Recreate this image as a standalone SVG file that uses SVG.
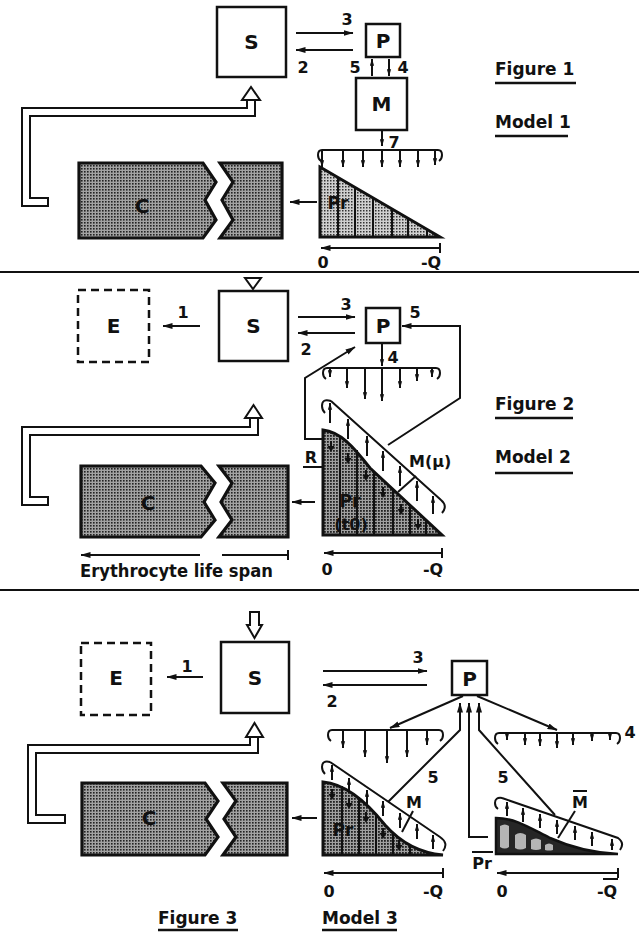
<svg xmlns="http://www.w3.org/2000/svg" xmlns:xlink="http://www.w3.org/1999/xlink" width="639" height="932" viewBox="0 0 639 932">
<style>
.ln{stroke:#111;stroke-width:2;fill:none}
.th{stroke:#111;stroke-width:2.5;fill:none}
.box{fill:#fff;stroke:#111;stroke-width:2.5}
.dash{fill:#fff;stroke:#111;stroke-width:2.5;stroke-dasharray:8,5}
.t{font-family:"DejaVu Sans","Liberation Sans",sans-serif;font-weight:bold;fill:#111}
.big{font-size:20px}
.num{font-size:16px}
.lab{font-size:17px}
.mid{text-anchor:middle}
.hol{stroke:#111;stroke-width:10;fill:none}
.holw{stroke:#fff;stroke-width:6;fill:none}
.harr{fill:#fff;stroke:#111;stroke-width:2}
.blk{fill:url(#pc);stroke:#111;stroke-width:3.2;stroke-linejoin:miter}
.pr{stroke:#111;stroke-width:3}
</style>
<defs>
<pattern id="pc" width="3" height="3" patternUnits="userSpaceOnUse"><rect width="3" height="3" fill="#a2a2a2"/><rect width="1.6" height="1.6" fill="#222"/></pattern>
<pattern id="pl" width="3" height="3" patternUnits="userSpaceOnUse"><rect width="3" height="3" fill="#cfcfcf"/><rect width="1.5" height="1.5" fill="#333"/></pattern>
<pattern id="pd" width="3" height="3" patternUnits="userSpaceOnUse"><rect width="3" height="3" fill="#a0a0a0"/><rect width="1.8" height="1.8" fill="#222"/></pattern>
<marker id="a" viewBox="0 0 10 6" refX="9.5" refY="3" markerWidth="10" markerHeight="6" orient="auto" markerUnits="userSpaceOnUse"><path d="M0,0 L10,3 L0,6 Z" fill="#111"/></marker>
<marker id="s" viewBox="0 0 10 6" refX="9.5" refY="3" markerWidth="7" markerHeight="5" orient="auto" markerUnits="userSpaceOnUse"><path d="M0,0 L10,3 L0,6 Z" fill="#111"/></marker>
<g id="drop"><path d="M0,-8 V-2" stroke="#111" stroke-width="2"/><path d="M-3.5,-3 L3.5,-3 L0,3 Z" fill="#111"/></g>
</defs>

<g id="separators">
<line x1="0" y1="272" x2="639" y2="272" stroke="#111" stroke-width="1.8"/>
<line x1="0" y1="590" x2="639" y2="590" stroke="#111" stroke-width="1.8"/>
</g>

<!-- ================= FIGURE 1 ================= -->
<g id="f1-S"><rect class="box" x="217" y="7" width="69" height="70"/><text class="t big mid" x="251.5" y="49">S</text></g>
<g id="f1-P"><rect class="box" x="366" y="24" width="34" height="33"/><text class="t big mid" x="383" y="48">P</text></g>
<g id="f1-M"><rect class="box" x="356" y="78" width="51" height="52"/><text class="t big mid" x="381.5" y="111">M</text></g>
<g id="f1-C">
<path class="blk" d="M79,163 H203 L216,182 L205,200 L216,220 L203,238 H79 Z"/>
<path class="blk" d="M220,163 H282 V238 H220 L233,220 L222,200 L233,182 Z"/>
<text class="t big mid" x="142" y="213" fill="#1a1a1a">C</text>
</g>
<g id="f1-Pr">
<path d="M320,167 L440,237 H320 Z" fill="url(#pl)"/>
<g class="ln" stroke-width="1.8">
<line x1="338" y1="177" x2="338" y2="237"/><line x1="355" y1="187" x2="355" y2="237"/><line x1="373" y1="198" x2="373" y2="237"/>
<line x1="392" y1="209" x2="392" y2="237"/><line x1="408" y1="218" x2="408" y2="237"/><line x1="427" y1="229" x2="427" y2="237"/>
</g>
<path d="M320,167 L440,237 H320 Z" fill="none" class="pr"/>
<text class="t lab mid" x="338" y="209" fill="#1a1a1a">Pr</text>
</g>
<g id="f1-labels">
<text class="t lab" x="495" y="75">Figure 1</text><line class="th" x1="495" y1="83" x2="576" y2="83"/>
<text class="t lab" x="495" y="128">Model 1</text><line class="th" x1="495" y1="136" x2="568" y2="136"/>
<text class="t num mid" x="323" y="268">0</text>
<text class="t num mid" x="431" y="268">-Q</text>
</g>
<g id="f1-connectors">
<path class="hol" d="M49,202 H26 V112 H251 V100"/>
<path class="holw" d="M47,202 H26 V112 H251 V98"/>
<path class="harr" d="M242,100 H260 L251,87 Z"/>
<line class="ln" x1="296" y1="33" x2="353" y2="33" marker-end="url(#a)"/>
<text class="t num mid" x="347" y="25">3</text>
<line class="ln" x1="353" y1="50" x2="296" y2="50" marker-end="url(#a)"/>
<text class="t num mid" x="303" y="73">2</text>
<line class="ln" x1="372" y1="76" x2="372" y2="59" marker-end="url(#s)"/>
<line class="ln" x1="389" y1="59" x2="389" y2="76" marker-end="url(#s)"/>
<text class="t num mid" x="355" y="73">5</text>
<text class="t num mid" x="403" y="73">4</text>
<line class="ln" x1="382" y1="130" x2="382" y2="146" marker-end="url(#s)"/>
<text class="t num mid" x="394" y="148">7</text>
<path class="ln" d="M322,150 H438 M322,150 Q318,150 318,155 Q318,159 321,161 M438,150 Q442,150 442,155 Q442,159 439,161"/>
<g class="ln" stroke-width="1.8">
<line x1="322" y1="150" x2="322" y2="167" marker-end="url(#s)"/><line x1="343" y1="150" x2="343" y2="167" marker-end="url(#s)"/>
<line x1="363" y1="150" x2="363" y2="167" marker-end="url(#s)"/><line x1="382" y1="150" x2="382" y2="167" marker-end="url(#s)"/>
<line x1="400" y1="150" x2="400" y2="167" marker-end="url(#s)"/><line x1="418" y1="150" x2="418" y2="167" marker-end="url(#s)"/>
<line x1="435" y1="150" x2="435" y2="165" marker-end="url(#s)"/>
</g>
<line class="ln" x1="317" y1="202" x2="290" y2="202" marker-end="url(#a)"/>
<line class="ln" x1="440" y1="248" x2="321" y2="248" marker-end="url(#a)"/>
<line class="ln" x1="440" y1="243" x2="440" y2="253"/>
</g>

<!-- ================= FIGURE 2 ================= -->
<g id="f2-S"><path class="harr" d="M245,278 H261 L253,289 Z"/><rect class="box" x="219" y="291" width="69" height="70"/><text class="t big mid" x="253.5" y="333">S</text></g>
<g id="f2-E"><rect class="dash" x="78" y="290" width="71" height="72"/><text class="t big mid" x="113.5" y="333">E</text></g>
<g id="f2-P"><rect class="box" x="366" y="308" width="34" height="35"/><text class="t big mid" x="383" y="333">P</text></g>
<g id="f2-C">
<path class="blk" d="M81,466 H201 L215,483 L204,502 L215,520 L201,537 H81 Z"/>
<path class="blk" d="M219,466 H288 V537 H219 L232,520 L221,502 L232,483 Z"/>
<text class="t big mid" x="148" y="510" fill="#1a1a1a">C</text>
</g>
<g id="f2-Pr">
<path d="M323,430 C340,432 352,445 370,468 L442,535 H323 Z" fill="url(#pd)"/>
<g class="ln" stroke-width="1.8">
<line x1="340" y1="436" x2="340" y2="535"/><line x1="357" y1="450" x2="357" y2="535"/><line x1="374" y1="472" x2="374" y2="535"/>
<line x1="393" y1="489" x2="393" y2="535"/><line x1="410" y1="505" x2="410" y2="535"/><line x1="426" y1="520" x2="426" y2="535"/>
</g>
<use xlink:href="#drop" x="331" y="449"/><use xlink:href="#drop" x="348" y="461"/><use xlink:href="#drop" x="366" y="478"/>
<use xlink:href="#drop" x="383" y="495"/><use xlink:href="#drop" x="401" y="512"/><use xlink:href="#drop" x="418" y="527"/>
<path d="M323,430 C340,432 352,445 370,468 L442,535 H323 Z" fill="none" class="pr"/>
<text class="t lab mid" x="350" y="507" fill="#1a1a1a">Pr</text>
<text class="t num mid" x="351" y="530" fill="#1a1a1a">(t0)</text>
</g>
<g id="f2-M">
<path class="ln" d="M331,401 L441,500 M331,401 Q322,398 322,406 Q322,410 325,413 M441,500 Q448,506 442,513"/>
<g class="ln" stroke-width="1.8">
<line x1="330" y1="423" x2="330" y2="403" marker-end="url(#s)"/><line x1="348" y1="439" x2="348" y2="419" marker-end="url(#s)"/>
<line x1="367" y1="456" x2="367" y2="436" marker-end="url(#s)"/><line x1="383" y1="471" x2="383" y2="451" marker-end="url(#s)"/>
<line x1="400" y1="486" x2="400" y2="466" marker-end="url(#s)"/><line x1="417" y1="501" x2="417" y2="481" marker-end="url(#s)"/>
<line x1="433" y1="514" x2="433" y2="496" marker-end="url(#s)"/>
</g>
<text class="t num" x="409" y="467">M(μ)</text>
<line class="ln" x1="398" y1="492" x2="416" y2="476"/>
</g>
<g id="f2-labels">
<text class="t lab" x="495" y="410">Figure 2</text><line class="th" x1="495" y1="418" x2="573" y2="418"/>
<text class="t lab" x="495" y="463">Model 2</text><line class="th" x1="495" y1="473" x2="573" y2="473"/>
<text class="t num mid" x="311" y="463">R</text>
<text class="t num mid" x="327" y="575">0</text>
<text class="t num mid" x="433" y="575">-Q</text>
<text class="t lab" x="80" y="577" textLength="193" lengthAdjust="spacingAndGlyphs">Erythrocyte life span</text>
</g>
<g id="f2-connectors">
<path class="hol" d="M49,501 H26 V431 H254 V418"/>
<path class="holw" d="M47,501 H26 V431 H254 V416"/>
<path class="harr" d="M245,418 H262 L253.5,405 Z"/>
<line class="ln" x1="200" y1="326" x2="163" y2="326" marker-end="url(#a)"/>
<text class="t num mid" x="183" y="318">1</text>
<line class="ln" x1="298" y1="317" x2="355" y2="317" marker-end="url(#a)"/>
<text class="t num mid" x="346" y="310">3</text>
<line class="ln" x1="355" y1="333" x2="298" y2="333" marker-end="url(#a)"/>
<text class="t num mid" x="306" y="355">2</text>
<path class="ln" d="M388,445 L460,398 V326 H402" marker-end="url(#a)"/>
<text class="t num mid" x="415" y="318">5</text>
<path class="ln" d="M323,439 H305 V378 L355,347" marker-end="url(#a)"/>
<line class="ln" x1="303" y1="467" x2="323" y2="467"/>
<line class="ln" x1="382" y1="343" x2="382" y2="366" marker-end="url(#s)"/>
<text class="t num mid" x="393" y="363">4</text>
<path class="ln" d="M327,368 H436 M327,368 Q323,368 323,373 Q323,377 326,379 M436,368 Q440,368 440,373 Q440,377 437,379"/>
<g class="ln" stroke-width="1.8">
<line x1="330" y1="368" x2="330" y2="377" marker-end="url(#s)"/><line x1="347" y1="368" x2="347" y2="388" marker-end="url(#s)"/>
<line x1="365" y1="368" x2="365" y2="399" marker-end="url(#s)"/><line x1="382" y1="368" x2="382" y2="401" marker-end="url(#s)"/>
<line x1="400" y1="368" x2="400" y2="388" marker-end="url(#s)"/><line x1="417" y1="368" x2="417" y2="381" marker-end="url(#s)"/>
<line x1="432" y1="368" x2="432" y2="377" marker-end="url(#s)"/>
</g>
<line class="ln" x1="315" y1="502" x2="292" y2="502" marker-end="url(#a)"/>
<line class="ln" x1="442" y1="553" x2="324" y2="553" marker-end="url(#a)"/>
<line class="ln" x1="442" y1="548" x2="442" y2="558"/>
<line class="ln" x1="200" y1="555" x2="81" y2="555" marker-end="url(#a)"/>
<line class="ln" x1="222" y1="555" x2="288" y2="555"/>
<line class="ln" x1="288" y1="550" x2="288" y2="560"/>
</g>

<!-- ================= FIGURE 3 ================= -->
<g id="f3-S"><path class="harr" d="M250,625 V612 H259 V625 H262 L254.5,638 L247,625 Z"/><rect class="box" x="221" y="642" width="68" height="71"/><text class="t big mid" x="255" y="685">S</text></g>
<g id="f3-E"><rect class="dash" x="81" y="643" width="70" height="72"/><text class="t big mid" x="116" y="685">E</text></g>
<g id="f3-P"><rect class="box" x="452" y="661" width="35" height="34"/><text class="t big mid" x="469.5" y="686">P</text></g>
<g id="f3-C">
<path class="blk" d="M82,783 H205 L218,801 L206,819 L218,837 L205,855 H82 Z"/>
<path class="blk" d="M223,783 H287 V855 H223 L236,837 L224,819 L236,801 Z"/>
<text class="t big mid" x="149" y="825" fill="#1a1a1a">C</text>
</g>
<g id="f3-Pr">
<path d="M323,782 C345,784 365,800 385,825 C400,842 420,853 443,855 H323 Z" fill="url(#pd)"/>
<g class="ln" stroke-width="1.8">
<line x1="342" y1="786" x2="342" y2="855"/><line x1="359" y1="797" x2="359" y2="855"/><line x1="376" y1="814" x2="376" y2="855"/>
<line x1="393" y1="834" x2="393" y2="855"/><line x1="410" y1="845" x2="410" y2="855"/>
</g>
<use xlink:href="#drop" x="332" y="797"/><use xlink:href="#drop" x="349" y="806"/><use xlink:href="#drop" x="366" y="820"/>
<use xlink:href="#drop" x="383" y="836"/><use xlink:href="#drop" x="399" y="848"/>
<path d="M323,782 C345,784 365,800 385,825 C400,842 420,853 443,855 H323 Z" fill="none" class="pr"/>
<text class="t lab mid" x="343" y="836" fill="#1a1a1a">Pr</text>
</g>
<g id="f3-M">
<path class="ln" d="M330,762 L440,837 Q449,843 443,851 M330,762 Q322,760 322,767 Q322,771 325,774"/>
<g class="ln" stroke-width="1.8">
<line x1="332" y1="780" x2="332" y2="765" marker-end="url(#s)"/><line x1="349" y1="793" x2="349" y2="778" marker-end="url(#s)"/>
<line x1="367" y1="805" x2="367" y2="790" marker-end="url(#s)"/><line x1="383" y1="816" x2="383" y2="801" marker-end="url(#s)"/>
<line x1="400" y1="828" x2="400" y2="813" marker-end="url(#s)"/><line x1="417" y1="839" x2="417" y2="824" marker-end="url(#s)"/>
<line x1="433" y1="849" x2="433" y2="835" marker-end="url(#s)"/>
</g>
<text class="t num mid" x="414" y="808">M</text>
<line class="ln" x1="402" y1="832" x2="413" y2="811"/>
</g>
<g id="f3-Prbar">
<path d="M496,818 C515,818 530,828 550,838 C570,847 595,853 618,854 H496 Z" fill="#262626"/>
<g fill="#b5b5b5">
<path d="M500,826 Q505,823 509,826 V847 Q505,850 500,847 Z"/>
<path d="M515,835 Q520,831 526,835 V848 Q520,851 515,848 Z"/>
<path d="M531,840 Q536,837 541,840 V849 Q536,851 531,849 Z"/>
<path d="M545,845 Q549,842 553,845 V850 Q549,851 545,850 Z"/>
</g>
<path d="M496,818 C515,818 530,828 550,838 C570,847 595,853 618,854 H496 Z" fill="none" stroke="#111" stroke-width="2.5"/>
</g>
<g id="f3-Mbar">
<path class="ln" d="M502,798 L618,838 Q625,843 620,850 M502,798 Q495,797 495,803 Q495,807 498,809"/>
<g class="ln" stroke-width="1.8">
<line x1="507" y1="816" x2="507" y2="802" marker-end="url(#s)"/><line x1="523" y1="822" x2="523" y2="808" marker-end="url(#s)"/>
<line x1="540" y1="828" x2="540" y2="814" marker-end="url(#s)"/><line x1="557" y1="834" x2="557" y2="820" marker-end="url(#s)"/>
<line x1="575" y1="840" x2="575" y2="826" marker-end="url(#s)"/><line x1="592" y1="846" x2="592" y2="832" marker-end="url(#s)"/>
<line x1="612" y1="850" x2="612" y2="839" marker-end="url(#s)"/>
</g>
<text class="t num mid" x="580" y="808">M</text>
<line class="ln" x1="573" y1="791" x2="587" y2="791"/>
<line class="ln" x1="558" y1="838" x2="575" y2="811"/>
</g>
<g id="f3-labels">
<text class="t num mid" x="482" y="869">Pr</text>
<line class="ln" x1="472" y1="852" x2="493" y2="852"/>
<text class="t num mid" x="329" y="897">0</text>
<text class="t num mid" x="433" y="897">-Q</text>
<text class="t num mid" x="502" y="897">0</text>
<text class="t num mid" x="607" y="897">-Q</text>
<line class="ln" x1="603" y1="879" x2="618" y2="879"/>
<text class="t lab" x="158" y="924">Figure 3</text><line class="th" x1="158" y1="930" x2="238" y2="930"/>
<text class="t lab" x="322" y="924">Model 3</text><line class="th" x1="322" y1="930" x2="397" y2="930"/>
</g>
<g id="f3-connectors">
<path class="hol" d="M66,819 H32 V749 H254 V737"/>
<path class="holw" d="M64,819 H32 V749 H254 V735"/>
<path class="harr" d="M246,737 H263 L254.5,723 Z"/>
<line class="ln" x1="203" y1="677" x2="167" y2="677" marker-end="url(#a)"/>
<text class="t num mid" x="187" y="672">1</text>
<line class="ln" x1="323" y1="671" x2="427" y2="671" marker-end="url(#a)"/>
<text class="t num mid" x="418" y="663">3</text>
<line class="ln" x1="427" y1="685" x2="323" y2="685" marker-end="url(#a)"/>
<text class="t num mid" x="332" y="707">2</text>
<line class="ln" x1="463" y1="696" x2="390" y2="728" marker-end="url(#a)"/>
<line class="ln" x1="477" y1="696" x2="557" y2="730" marker-end="url(#a)"/>
<path class="ln" d="M388,802 L460,730 V703" marker-end="url(#a)"/>
<path class="ln" d="M488,837 H469 V703" marker-end="url(#a)"/>
<path class="ln" d="M555,815 L479,730 V703" marker-end="url(#a)"/>
<text class="t num mid" x="433" y="783">5</text>
<text class="t num mid" x="503" y="783">5</text>
<path class="ln" d="M332,730 H439 M332,730 Q328,730 328,735 Q328,739 331,741 M439,730 Q443,730 443,735 Q443,739 440,741"/>
<g class="ln" stroke-width="1.8">
<line x1="343" y1="730" x2="343" y2="748" marker-end="url(#s)"/><line x1="365" y1="730" x2="365" y2="757" marker-end="url(#s)"/>
<line x1="387" y1="730" x2="387" y2="763" marker-end="url(#s)"/><line x1="407" y1="730" x2="407" y2="757" marker-end="url(#s)"/>
<line x1="427" y1="730" x2="427" y2="745" marker-end="url(#s)"/>
</g>
<path class="ln" d="M499,733 H616 M499,733 Q495,733 495,738 Q495,742 498,744 M616,733 Q620,733 620,738 Q620,742 617,744"/>
<g class="ln" stroke-width="1.8">
<line x1="507" y1="733" x2="507" y2="740" marker-end="url(#s)"/><line x1="525" y1="733" x2="525" y2="745" marker-end="url(#s)"/>
<line x1="540" y1="733" x2="540" y2="746" marker-end="url(#s)"/><line x1="557" y1="733" x2="557" y2="748" marker-end="url(#s)"/>
<line x1="573" y1="733" x2="573" y2="745" marker-end="url(#s)"/><line x1="592" y1="733" x2="592" y2="741" marker-end="url(#s)"/>
<line x1="610" y1="733" x2="610" y2="740" marker-end="url(#s)"/>
</g>
<text class="t num mid" x="630" y="738">4</text>
<line class="ln" x1="317" y1="818" x2="292" y2="818" marker-end="url(#a)"/>
<line class="ln" x1="443" y1="873" x2="324" y2="873" marker-end="url(#a)"/>
<line class="ln" x1="443" y1="868" x2="443" y2="878"/>
<line class="ln" x1="618" y1="873" x2="497" y2="873" marker-end="url(#a)"/>
<line class="ln" x1="618" y1="868" x2="618" y2="878"/>
</g>
</svg>
